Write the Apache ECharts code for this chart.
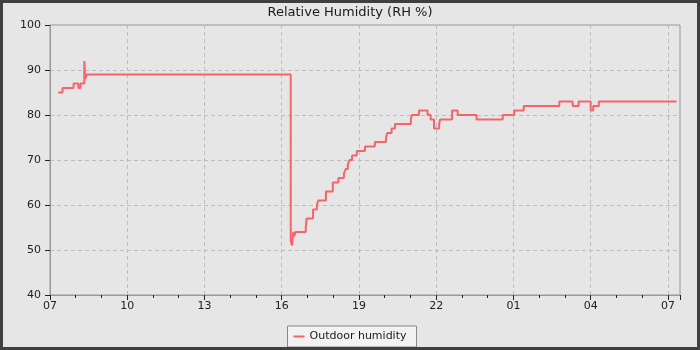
<!DOCTYPE html>
<html>
<head>
<meta charset="utf-8">
<script src="https://cdn.jsdelivr.net/npm/echarts@6/dist/echarts.min.js"></script>
<style>
  html, body { margin: 0; padding: 0; background: #e6e6e6; }
  #chart { width: 700px; height: 350px; }
</style>
</head>
<body>
<div id="chart"></div>
<script>
// change points of the sensor reading (value holds until next time)
const times = [
  "07:19", "07:29", "07:55", "08:06", "08:11", "08:20", "08:22", "08:26",
  "16:21", "16:24", "16:27", "16:29", "16:32", "16:56", "16:58", "17:13",
  "17:22", "17:25", "17:43", "17:59", "18:12", "18:25", "18:29", "18:34",
  "18:38", "18:44", "18:55", "19:14", "19:37", "20:03", "20:06", "20:16",
  "20:24", "21:01", "21:03", "21:20", "21:40", "21:47", "21:55", "22:07",
  "22:09", "22:37", "22:50", "23:34", "00:35", "01:02", "01:24", "02:47",
  "03:18", "03:32", "04:00", "04:06", "04:19", "07:20"
];
const humidity = [
  85, 86, 87, 86, 87, 92, 88, 89,
  52, 51, 54, 53, 54, 55, 57, 59,
  60, 61, 63, 65, 66, 67, 68, 69,
  70, 71, 72, 73, 74, 75, 76, 77,
  78, 79, 80, 81, 80, 79, 77, 78,
  79, 81, 80, 79, 80, 81, 82, 83,
  82, 83, 81, 82, 83, 83
];
const startHour = 7;
const xMaxHours = 24.47;
const xTickStep = 3;
const yTicks = [40, 50, 60, 70, 80, 90, 100];
const seriesName = "Outdoor humidity";
const chartTitle = "Relative Humidity (RH %)";

// hours since 07:00, rolling over midnight
let prev = -1;
let dayOffset = 0;
const points = times.map((t, i) => {
  const parts = t.split(":");
  let h = parseInt(parts[0]) + parseInt(parts[1]) / 60 - startHour;
  if (h + dayOffset < prev) dayOffset += 24;
  h += dayOffset;
  prev = h;
  return [h, humidity[i]];
});

const myChart = echarts.init(document.getElementById("chart"));
const font = "DejaVu Sans";

const myOption = {
  animation: false,
  backgroundColor: "#e6e6e6",
  title: {
    text: chartTitle,
    left: "center",
    top: 1,
    textStyle: { fontFamily: font, fontSize: 13, fontWeight: "normal", color: "#1a1a1a" },
  },
  legend: {
    data: [seriesName],
    left: "center",
    top: 326,
    icon: "rect",
    itemWidth: 11,
    itemHeight: 2,
    itemGap: 5,
    padding: [5, 10, 5, 6],
    borderColor: "#888888",
    borderWidth: 1,
    backgroundColor: "#f2f2f2",
    borderRadius: 0,
    textStyle: { fontFamily: font, fontSize: 11, color: "#1a1a1a" },
  },
  grid: {
    left: 50,
    right: 20,
    top: 25,
    bottom: 55,
    show: true,
    borderColor: "#999999",
    borderWidth: 1,
    backgroundColor: "#e6e6e6",
  },
  xAxis: {
    type: "value",
    min: 0,
    max: xMaxHours,
    interval: xTickStep,
    axisLine: { show: true, lineStyle: { color: "#999999" } },
    axisTick: { show: true, inside: false, length: 5, lineStyle: { color: "#222222" } },
    minorTick: { show: true, splitNumber: 3, length: 3, lineStyle: { color: "#222222" } },
    axisLabel: {
      margin: 6,
      fontFamily: font,
      fontSize: 11,
      color: "#222222",
      showMaxLabel: false,
      formatter: function (v) {
        const h = Math.round(v + startHour) % 24;
        return (h < 10 ? "0" : "") + h;
      },
    },
    splitLine: { show: true, lineStyle: { color: "#bdbdbd", type: [4, 3] } },
  },
  yAxis: {
    type: "value",
    min: yTicks[0],
    max: yTicks[yTicks.length - 1],
    interval: 10,
    axisLine: { show: true, lineStyle: { color: "#999999" } },
    axisTick: { show: true, inside: false, length: 5, lineStyle: { color: "#222222" } },
    axisLabel: { margin: 9, fontFamily: font, fontSize: 11, color: "#222222" },
    splitLine: { show: true, lineStyle: { color: "#bdbdbd", type: [4, 3] } },
  },
  graphic: [
    {
      type: "rect",
      shape: { x: 1.5, y: 1.5, width: 697, height: 347 },
      style: { fill: null, stroke: "#3f3f3f", lineWidth: 3 },
      silent: true,
      z: 100,
    },
  ],
  series: [
    {
      name: seriesName,
      type: "line",
      step: "end",
      showSymbol: false,
      data: points,
      color: "#f4646a",
      lineStyle: { width: 2, color: "#f4646a" },
    },
  ],
};

myChart.setOption(myOption);
</script>
</body>
</html>
